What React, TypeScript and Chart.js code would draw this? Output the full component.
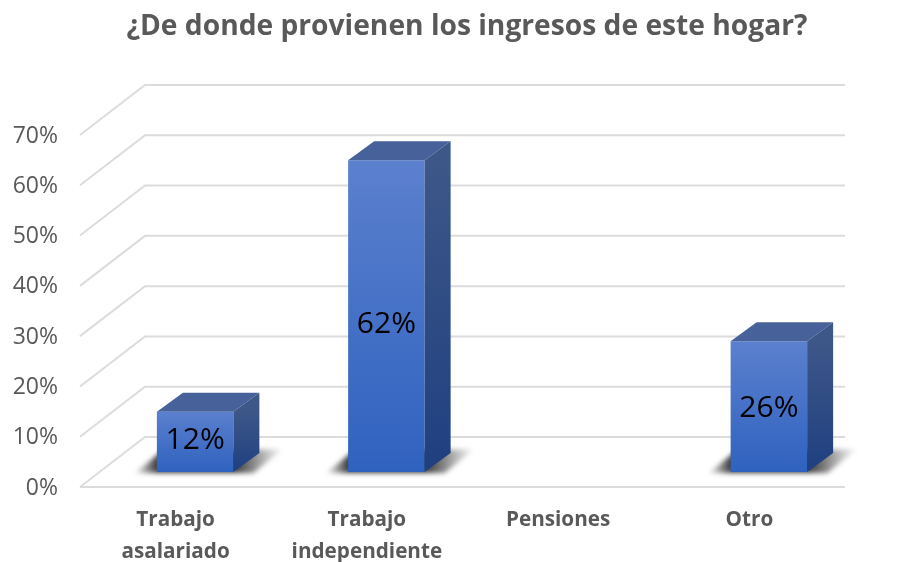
import React, { useEffect, useRef } from "react";
import { Chart, registerables } from "chart.js";

Chart.register(...registerables);

const TITLE = "¿De donde provienen los ingresos de este hogar?";
const categories = [["Trabajo", "asalariado"], ["Trabajo", "independiente"], "Pensiones", "Otro"];
const values = [12, 62, 0, 26];
const AXIS_MAX = 70;
const AXIS_STEP = 10;

const FONT = '"Open Sans", sans-serif';
const BAR_SHIFT = { x: 19.5, y: -15 };
const DEPTH = { x: 26, y: -19 };
const WALL = { x: 65, y: -50 };

const poly = (ctx: CanvasRenderingContext2D, pts: number[][], fill: any) => {
  ctx.beginPath();
  pts.forEach(([x, y], i) => (i ? ctx.lineTo(x, y) : ctx.moveTo(x, y)));
  ctx.closePath();
  ctx.fillStyle = fill;
  ctx.fill();
};

const vGrad = (ctx: CanvasRenderingContext2D, y0: number, y1: number, a: string, b: string) => {
  const g = ctx.createLinearGradient(0, y0, 0, y1);
  g.addColorStop(0, a);
  g.addColorStop(1, b);
  return g;
};

const box3d = {
  id: "box3d",
  beforeDatasetsDraw(chart: any) {
    const { ctx, chartArea, scales } = chart;
    const right = chartArea.right;
    const left = chartArea.left;
    ctx.save();
    // title
    ctx.fillStyle = "#595959";
    ctx.font = `bold 28.2px ${FONT}`;
    ctx.textAlign = "center";
    ctx.textBaseline = "middle";
    ctx.fillText(TITLE, 467, 27);
    // walls
    ctx.strokeStyle = "#DCDCDC";
    ctx.lineWidth = 2;
    for (let v = 0; v <= AXIS_MAX; v += AXIS_STEP) {
      const y = scales.y.getPixelForValue(v);
      ctx.beginPath();
      ctx.moveTo(left, y);
      ctx.lineTo(left + WALL.x, y + WALL.y);
      ctx.lineTo(right, y + WALL.y);
      ctx.stroke();
    }
    const y0 = scales.y.getPixelForValue(0);
    ctx.beginPath();
    ctx.moveTo(left, y0);
    ctx.lineTo(right, y0);
    ctx.stroke();
    // floor shadows
    const meta = chart.getDatasetMeta(0);
    meta.data.forEach((bar: any, i: number) => {
      if (!values[i]) return;
      const l = bar.x - bar.width / 2 + BAR_SHIFT.x;
      const r = bar.x + bar.width / 2 + BAR_SHIFT.x;
      const b = bar.base + BAR_SHIFT.y;
      const g = ctx.createLinearGradient(l - 24, 0, r + 50, 0);
      const span = bar.width + 74;
      g.addColorStop(0, "rgba(60,60,60,0)");
      g.addColorStop(24 / span, "rgba(40,40,40,0.9)");
      g.addColorStop((bar.width + 26) / span, "rgba(40,40,40,0.9)");
      g.addColorStop(1, "rgba(60,60,60,0)");
      ctx.save();
      ctx.filter = "blur(2.5px)";
      poly(ctx, [[l - 22, b + 1], [l + 4, b - 20], [r + 50, b - 23], [r + 20, b + 1]], g);
      ctx.restore();
    });
    ctx.restore();
    ctx.save();
    ctx.translate(BAR_SHIFT.x, BAR_SHIFT.y);
  },
  afterDatasetsDraw(chart: any) {
    const { ctx, scales } = chart;
    ctx.restore();
    ctx.save();
    const meta = chart.getDatasetMeta(0);
    meta.data.forEach((bar: any, i: number) => {
      if (!values[i]) return;
      const l = bar.x - bar.width / 2 + BAR_SHIFT.x;
      const r = bar.x + bar.width / 2 + BAR_SHIFT.x;
      const t = bar.y + BAR_SHIFT.y;
      const b = bar.base + BAR_SHIFT.y;
      poly(ctx, [[l, t], [l + DEPTH.x, t + DEPTH.y], [r + DEPTH.x, t + DEPTH.y], [r, t]], "#47629B");
      poly(
        ctx,
        [[r, t], [r + DEPTH.x, t + DEPTH.y], [r + DEPTH.x, b + DEPTH.y], [r, b]],
        vGrad(ctx, t, b, "#3D5788", "#1F3F80"),
      );
      ctx.fillStyle = "#000000";
      ctx.font = `30px ${FONT}`;
      ctx.textAlign = "center";
      ctx.textBaseline = "middle";
      ctx.fillText(
        `${values[i]}%`,
        (l + r) / 2,
        scales.y.getPixelForValue(values[i] * 0.465) - 18,
      );
    });
    ctx.restore();
  },
};

export default function App() {
  const ref = useRef<HTMLCanvasElement>(null);
  useEffect(() => {
    const chart = new Chart(ref.current!, {
      type: "bar",
      data: {
        labels: categories as any,
        datasets: [
          {
            data: values,
            clip: false as any,
            barPercentage: 0.4,
            categoryPercentage: 1,
            backgroundColor: (c: any) => {
              const { chart: ch, raw } = c;
              const t = ch.scales?.y?.getPixelForValue(raw);
              const b = ch.scales?.y?.getPixelForValue(0);
              if (!Number.isFinite(t) || !Number.isFinite(b)) return "#3F6CC6";
              return vGrad(ch.ctx, t, b, "#5B80CE", "#2F62BF");
            },
          },
        ],
      },
      options: {
        responsive: false,
        animation: false,
        layout: { padding: { top: 135, right: 53, left: 0, bottom: 0 } },
        plugins: { legend: { display: false }, tooltip: { enabled: false }, title: { display: false } },
        scales: {
          x: {
            afterFit: (s: any) => { s.height = 75; },
            grid: { display: false, drawTicks: false },
            border: { display: false },
            ticks: {
              color: "#595959",
              padding: 17,
              maxRotation: 0,
              autoSkip: false,
              font: { family: FONT, size: 20.7, weight: "bold", lineHeight: 1.545 },
            },
          },
          y: {
            min: 0,
            max: AXIS_MAX,
            afterFit: (s: any) => { s.width = 80; },
            grid: { display: false, drawTicks: false },
            border: { display: false },
            ticks: {
              stepSize: AXIS_STEP,
              color: "#595959",
              padding: 22,
              labelOffset: 1,
              font: { family: FONT, size: 23 },
              callback: (v: any) => `${v}%`,
            },
          },
        },
      },
      plugins: [box3d],
    });
    return () => chart.destroy();
  }, []);
  return (
    <div style={{ position: "fixed", left: 0, top: 0, width: 898, height: 562, background: "#fff" }}>
      <canvas ref={ref} width={898} height={562} style={{ display: "block", filter: "blur(0.4px)" }} />
    </div>
  );
}
